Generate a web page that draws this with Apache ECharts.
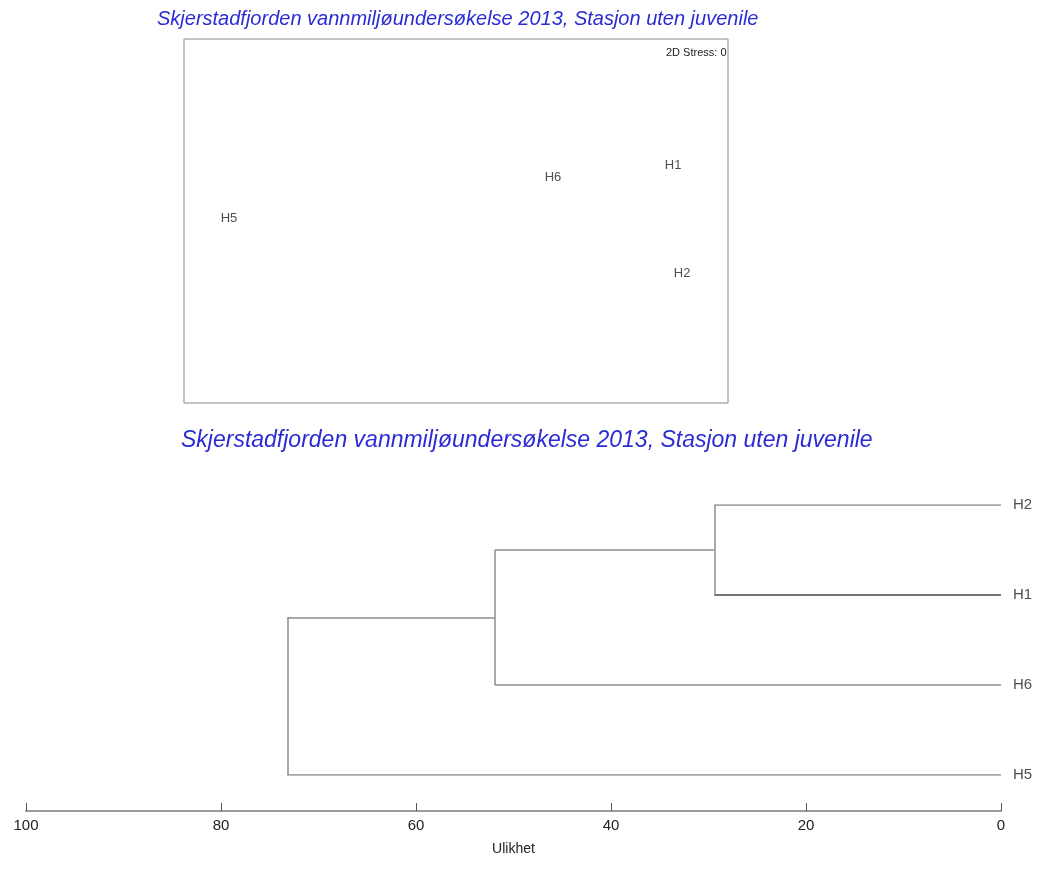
<!DOCTYPE html>
<html>
<head>
<meta charset="utf-8">
<script src="https://cdn.jsdelivr.net/npm/echarts@6/dist/echarts.min.js"></script>
<style>html,body{margin:0;padding:0;background:#fff}#c{width:1039px;height:870px}</style>
</head>
<body>
<div id="c"></div>
<script>
// ---- data ----
var titleText = 'Skjerstadfjorden vannmiljøundersøkelse 2013, Stasjon uten juvenile';
var stressText = '2D Stress: 0';
var mdsLabels = ['H1', 'H2', 'H5', 'H6'];
var mdsX = [1.197, 1.247, -1.252, 0.535];
var mdsY = [0.308, -0.286, 0.016, 0.242];
var leafLabels = ['H2', 'H1', 'H6', 'H5'];        // top to bottom
// merges: [left child, right child, height]; leaves are 0..3, clusters are 4..6
var mergeA = [0, 4, 5];
var mergeB = [1, 2, 3];
var mergeHeights = [29.4, 51.9, 73.2];
var axisTicks = [0, 20, 40, 60, 80, 100];
var axisName = 'Ulikhet';

// ---- build dendrogram segments ----
var nodeY = leafLabels.map(function (_, i) { return i; });
var nodeH = leafLabels.map(function () { return 0; });
var segs = [];
for (var m = 0; m < mergeHeights.length; m++) {
  var a = mergeA[m], b = mergeB[m], h = mergeHeights[m];
  segs.push({ coords: [[nodeH[a], nodeY[a]], [h, nodeY[a]]], dark: a === 1 });
  segs.push({ coords: [[nodeH[b], nodeY[b]], [h, nodeY[b]]], dark: b === 1 });
  segs.push({ coords: [[h, nodeY[a]], [h, nodeY[b]]], dark: false });
  nodeY.push((nodeY[a] + nodeY[b]) / 2);
  nodeH.push(h);
}

var FONT = 'Liberation Sans, Arial, sans-serif';
var chart = echarts.init(document.getElementById('c'), null, { renderer: 'canvas' });
chart.setOption({
  animation: false,
  backgroundColor: '#fff',
  title: [
    { text: titleText, left: 152, top: 4,
      textStyle: { fontFamily: FONT, fontStyle: 'italic', fontWeight: 'normal', fontSize: 20, color: '#2b2bd6' } },
    { text: titleText, left: 176, top: 424,
      textStyle: { fontFamily: FONT, fontStyle: 'italic', fontWeight: 'normal', fontSize: 23, color: '#2b2bd6' } },
    { text: stressText, left: 661, top: 42,
      textStyle: { fontFamily: FONT, fontWeight: 'normal', fontSize: 11, color: '#222' } }
  ],
  grid: [
    { left: 184, top: 39, width: 544, height: 364, show: true, borderColor: '#888', borderWidth: 1, backgroundColor: '#fff' },
    { left: 26, top: 505, width: 975, height: 270 }
  ],
  xAxis: [
    { gridIndex: 0, type: 'value', min: -1.5, max: 1.5, show: false },
    { gridIndex: 1, type: 'value', min: 0, max: 100, interval: 20, inverse: true, offset: 36,
      axisLine: { onZero: false, lineStyle: { color: '#9a9a9a', width: 2 } },
      axisTick: { inside: true, length: 8, lineStyle: { color: '#555' } },
      splitLine: { show: false },
      axisLabel: { color: '#222', fontSize: 15, fontFamily: FONT, margin: 7, customValues: axisTicks },
      name: axisName, nameLocation: 'middle', nameGap: 31,
      nameTextStyle: { color: '#222', fontSize: 14, fontFamily: FONT } }
  ],
  yAxis: [
    { gridIndex: 0, type: 'value', min: -1, max: 1, show: false },
    { gridIndex: 1, type: 'value', min: 0, max: leafLabels.length - 1, inverse: true, show: false }
  ],
  series: [
    { type: 'scatter', xAxisIndex: 0, yAxisIndex: 0, symbolSize: 0,
      data: mdsLabels.map(function (n, i) { return { name: n, value: [mdsX[i], mdsY[i]] }; }),
      label: { show: true, position: 'inside', formatter: '{b}', color: '#222', fontSize: 13, fontFamily: FONT } },
    { type: 'lines', coordinateSystem: 'cartesian2d', xAxisIndex: 1, yAxisIndex: 1, polyline: false,
      lineStyle: { color: '#8c8c8c', width: 1.5, opacity: 1 },
      data: segs.map(function (s) {
        return { coords: s.coords, lineStyle: { color: s.dark ? '#444' : '#8c8c8c' } };
      }) },
    { type: 'scatter', xAxisIndex: 1, yAxisIndex: 1, symbolSize: 0,
      data: leafLabels.map(function (n, i) { return { name: n, value: [0, i] }; }),
      label: { show: true, position: 'right', distance: 12, formatter: '{b}', color: '#222', fontSize: 15, fontFamily: FONT } }
  ]
});
</script>
</body>
</html>
